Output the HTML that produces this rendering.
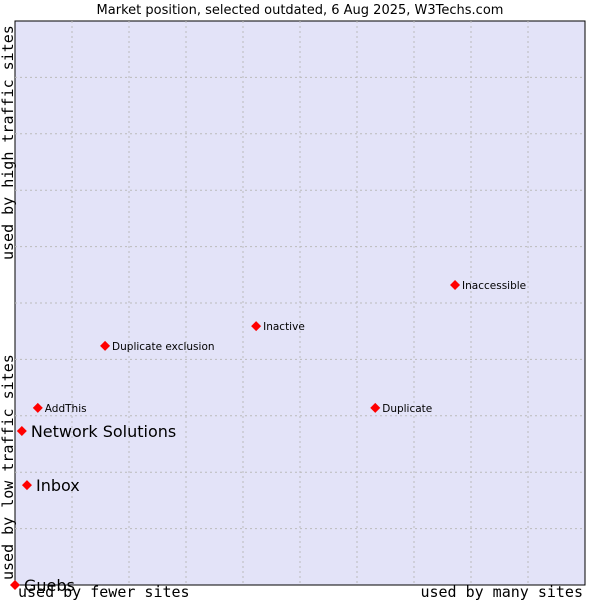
<!DOCTYPE html>
<html><head><meta charset="utf-8"><style>body{margin:0;background:#fff}svg{display:block}</style></head>
<body>
<svg id="c" width="600" height="600" xmlns="http://www.w3.org/2000/svg">
<text x="300" y="14" text-anchor="middle" font-family="DejaVu Sans, sans-serif" font-size="13" fill="#000">Market position, selected outdated, 6 Aug 2025, W3Techs.com</text>
<rect x="15" y="21" width="570" height="564" fill="#e3e3f8" stroke="#000"/>
<g id="grid"></g>
<g id="pts"></g>
<text x="18" y="597" font-family="DejaVu Sans Mono, monospace" font-size="15">used by fewer sites</text>
<text x="583" y="597" text-anchor="end" font-family="DejaVu Sans Mono, monospace" font-size="15">used by many sites</text>
<text transform="translate(13,580) rotate(-90)" font-family="DejaVu Sans Mono, monospace" font-size="15">used by low traffic sites</text>
<text transform="translate(13,260) rotate(-90)" font-family="DejaVu Sans Mono, monospace" font-size="15">used by high traffic sites</text>
</svg>
<script>
const names=["Guebs","Inbox","Network Solutions","AddThis","Duplicate exclusion","Inactive","Duplicate","Inaccessible"];
const xVals=[0,2.1,1.2,4.0,15.8,42.3,63.2,77.2];
const yVals=[0,17.7,27.3,31.4,42.4,45.9,31.4,53.2];
const bigLabel=[true,true,true,false,false,false,false,false];
const L=15,R=585,T=21,B=585;
const sx=v=>L+v/100*(R-L), sy=v=>B-v/100*(B-T);
const NS="http://www.w3.org/2000/svg";
const g=document.getElementById('grid');
for(let i=1;i<10;i++){
  const v=document.createElementNS(NS,'line');
  v.setAttribute('x1',sx(i*10));v.setAttribute('x2',sx(i*10));v.setAttribute('y1',T);v.setAttribute('y2',B);
  v.setAttribute('stroke','#bbb');v.setAttribute('stroke-dasharray','2,3');
  
  
  g.appendChild(v);
  const h=document.createElementNS(NS,'line');
  h.setAttribute('x1',L);h.setAttribute('x2',R);h.setAttribute('y1',sy(i*10));h.setAttribute('y2',sy(i*10));
  h.setAttribute('stroke','#bbb');h.setAttribute('stroke-dasharray','2,3');
  
  
  g.appendChild(h);
}
const p=document.getElementById('pts');
names.forEach((n,i)=>{
  const x=sx(xVals[i]),y=sy(yVals[i]);
  const d=document.createElementNS(NS,'path');
  d.setAttribute('d',`M${x-5},${y}L${x},${y-5}L${x+5},${y}L${x},${y+5}Z`);
  d.setAttribute('fill','#f00');
  
  
  p.appendChild(d);
  const t=document.createElementNS(NS,'text');
  t.setAttribute('x',x+(bigLabel[i]?9:7));
  t.setAttribute('y',y+(bigLabel[i]?6:4));
  t.setAttribute('font-family','DejaVu Sans, sans-serif');
  t.setAttribute('font-size',bigLabel[i]?'16':'10.5');
  t.textContent=n;
  
  
  p.appendChild(t);
});
</script>
</body></html>
